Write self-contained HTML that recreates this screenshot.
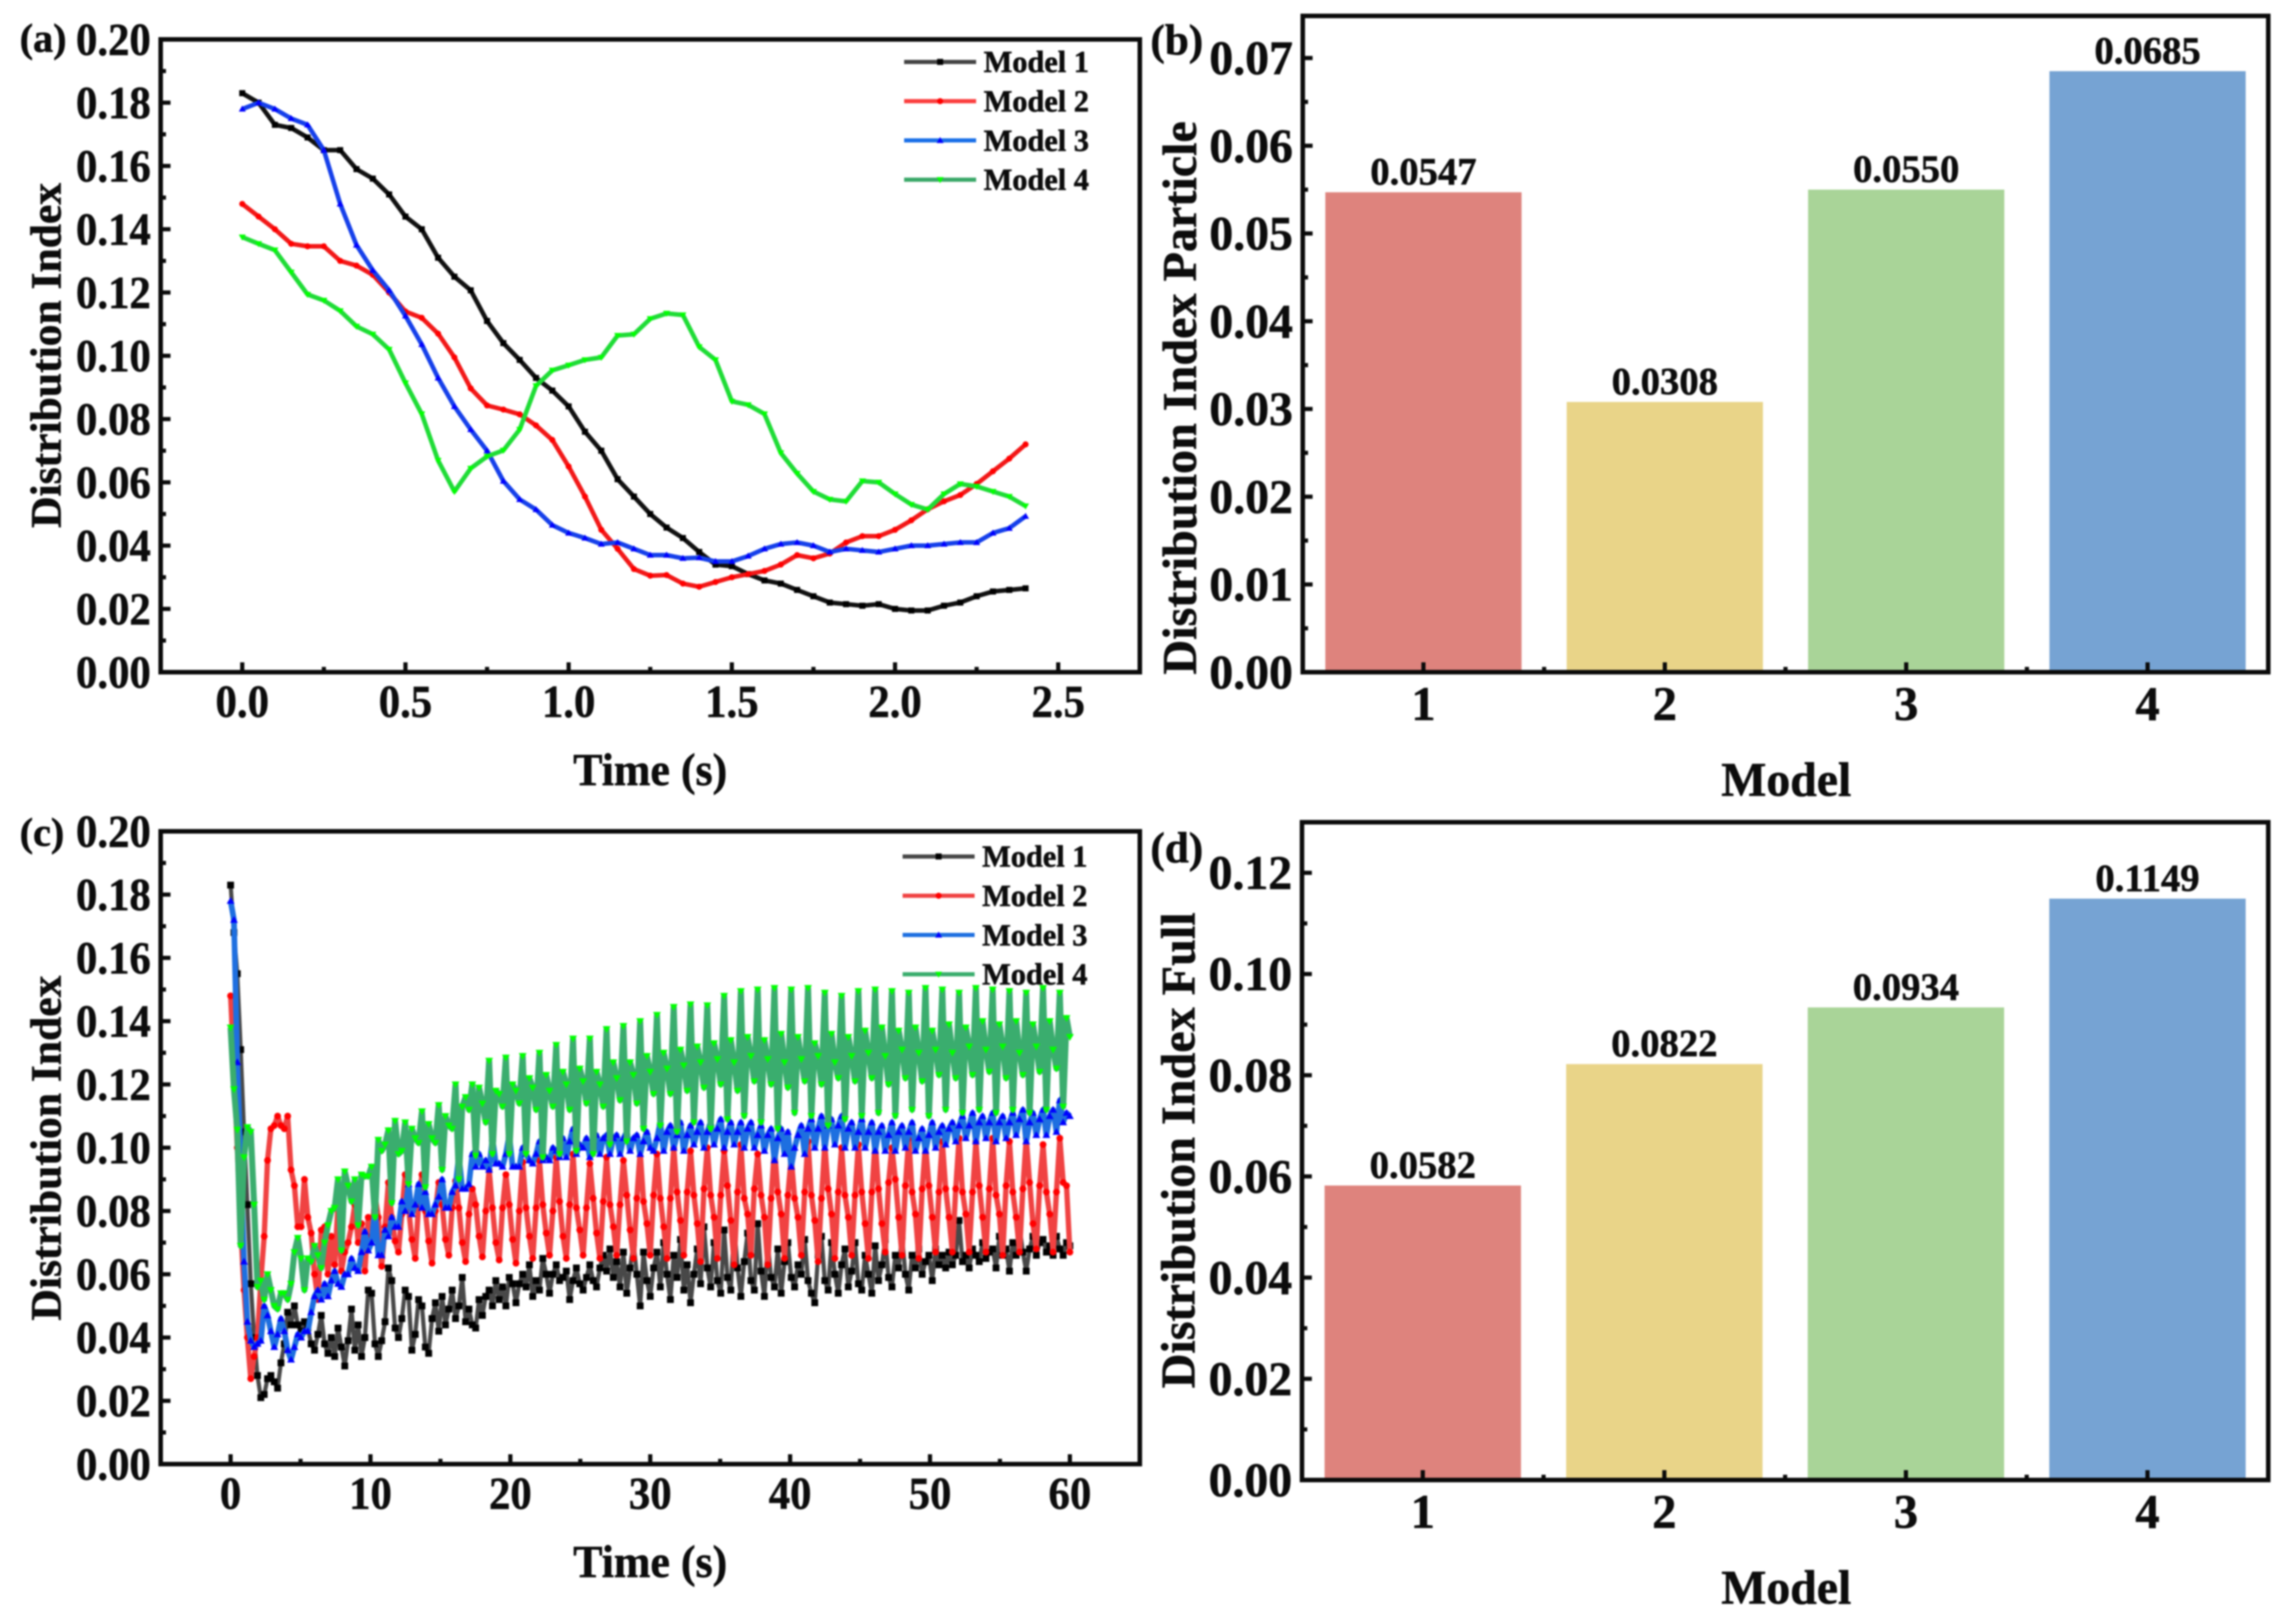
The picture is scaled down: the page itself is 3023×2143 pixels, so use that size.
<!DOCTYPE html>
<html lang="en">
<head>
<meta charset="utf-8">
<title>Distribution Index by Model</title>
<style>
html,body{margin:0;padding:0;background:#fff;}
#figure{display:block;width:3023px;height:2143px;filter:blur(1px);}
text{font-family:"Liberation Serif",serif;font-weight:bold;fill:#0c0c0c;stroke:#0c0c0c;stroke-width:0.7px;}
</style>
</head>
<body>
<svg id="figure" xmlns="http://www.w3.org/2000/svg" width="3023" height="2143" viewBox="0 0 3023 2143">
  <rect x="0" y="0" width="3023" height="2143" fill="#fff"/>
  <g id="panel-a"></g>
  <g id="panel-b"></g>
  <g id="panel-c"></g>
  <g id="panel-d"></g>
</svg>
<script>
// ---------- Panel (a): first 2.4 s, sampled every 0.05 s ----------
const timeStepA = 0.05;
const model1A = [.183,.180,.173,.172,.169,.165,.165,.159,.156,.151,.144,.140,.131,.125,.1207,.111,.104,.0987,.093,.089,.084,.076,.070,.061,.0555,.050,.0457,.0424,.038,.034,.0335,.031,.029,.028,.026,.024,.022,.0215,.021,.0215,.020,.0195,.0195,.021,.022,.024,.0255,.026,.0265];
const model2A = [.148,.144,.140,.1354,.1346,.1346,.130,.1285,.1256,.120,.114,.112,.107,.0995,.0897,.0843,.083,.0815,.078,.0734,.065,.0555,.045,.039,.0326,.0305,.0307,.028,.027,.0285,.030,.031,.032,.034,.037,.036,.0375,.041,.043,.043,.045,.048,.0515,.054,.056,.0595,.0635,.0675,.072];
const model3A = [.178,.180,.178,.175,.173,.165,.148,.135,.127,.1207,.1126,.1036,.093,.084,.0767,.070,.0604,.0546,.0514,.0465,.044,.0424,.0405,.041,.039,.037,.037,.036,.0362,.035,.035,.0367,.039,.0405,.041,.040,.038,.039,.0385,.038,.039,.040,.040,.0405,.041,.041,.044,.0455,.0493];
const model4A = [.1375,.1354,.1334,.1264,.1194,.1175,.1142,.1093,.1068,.102,.0914,.0816,.0669,.0571,.0644,.0682,.0701,.0767,.0905,.0954,.097,.0987,.0995,.1064,.1068,.1117,.1134,.1129,.1028,.0987,.0856,.0845,.0816,.0693,.0628,.0571,.0546,.054,.0604,.060,.0563,.053,.0514,.0563,.0595,.0587,.0571,.0555,.0525];
const xTicksA = ["0.0","0.5","1.0","1.5","2.0","2.5"];
const yTicksLine = ["0.00","0.02","0.04","0.06","0.08","0.10","0.12","0.14","0.16","0.18","0.20"];
const legendLabels = ["Model 1","Model 2","Model 3","Model 4"];

// ---------- Panel (c): full 60 s, sampled every 0.24 s ----------
const timeStepC = 0.24;
const model1C = [
.183,.168,.155,.131,.105,
.082,.057,.040,.028,.021,
.022,.027,.028,.026,.024,
.032,.038,.048,.044,.050,
.044,.042,.045,.043,.038,
.036,.041,.047,.038,.035,
.040,.034,.043,.037,.031,
.039,.049,.036,.044,.034,
.040,.055,.054,.038,.034,
.039,.045,.062,.058,.043,
.040,.046,.055,.053,.036,
.041,.052,.050,.037,.035,
.046,.051,.042,.053,.044,
.049,.055,.046,.050,.059,
.045,.049,.044,.043,.052,
.047,.053,.055,.050,.058,
.052,.056,.050,.059,.057,
.051,.057,.060,.056,.063,
.053,.058,.055,.065,.060,
.054,.060,.063,.058,.059,
.061,.052,.058,.062,.057,
.055,.059,.063,.058,.056,
.062,.066,.061,.068,.059,
.064,.056,.067,.054,.062,
.070,.060,.050,.067,.058,
.053,.062,.067,.056,.070,
.060,.052,.066,.059,.071,
.055,.063,.051,.060,.068,
.057,.075,.062,.056,.070,
.058,.054,.074,.059,.055,
.076,.062,.053,.064,.073,
.058,.055,.076,.061,.053,
.070,.059,.056,.068,.054,
.064,.070,.059,.056,.063,
.060,.071,.058,.054,.051,
.066,.072,.058,.055,.070,
.060,.054,.063,.068,.056,
.061,.070,.057,.055,.066,
.060,.054,.069,.058,.063,
.071,.059,.056,.066,.062,
.072,.060,.055,.066,.062,
.068,.060,.064,.066,.058,
.068,.063,.066,.062,.067,
.063,.066,.077,.064,.066,
.062,.068,.066,.064,.070,
.065,.067,.068,.062,.072,
.066,.068,.061,.070,.066,
.075,.067,.061,.068,.072,
.066,.070,.071,.067,.069,
.066,.072,.068,.066,.070,
.069];
const model2C = [
.148,.125,.100,.075,.055,
.040,.027,.034,.040,.058,
.072,.096,.106,.107,.110,
.107,.106,.110,.093,.088,
.075,.075,.090,.078,.073,
.060,.052,.074,.075,.060,
.072,.063,.082,.061,.067,
.070,.075,.082,.070,.076,
.061,.078,.072,.085,.078,
.0625,.075,.089,.078,.0705,
.067,.079,.0915,.081,.071,
.065,.082,.0915,.080,.0705,
.0635,.080,.089,.082,.071,
.066,.081,.0895,.081,.070,
.064,.079,.087,.082,.072,
.0655,.080,.093,.081,.070,
.0645,.081,.0915,.082,.071,
.0635,.080,.0955,.081,.072,
.065,.081,.096,.082,.073,
.066,.080,.097,.083,.072,
.065,.082,.098,.081,.074,
.066,.081,.095,.084,.073,
.065,.083,.097,.082,.075,
.066,.082,.096,.085,.074,
.065,.084,.099,.083,.076,
.066,.085,.098,.084,.075,
.065,.084,.100,.086,.077,
.066,.086,.099,.085,.076,
.064,.087,.100,.085,.078,
.065,.085,.099,.088,.077,
.063,.086,.101,.084,.079,
.066,.087,.098,.085,.078,
.063,.084,.100,.086,.079,
.065,.085,.097,.084,.078,
.066,.086,.102,.085,.077,
.064,.084,.101,.087,.079,
.065,.086,.100,.085,.078,
.066,.085,.101,.086,.076,
.065,.086,.102,.087,.076,
.067,.089,.100,.090,.078,
.066,.088,.103,.086,.079,
.065,.087,.101,.088,.078,
.067,.086,.102,.087,.078,
.067,.087,.103,.086,.079,
.067,.086,.102,.088,.078,
.067,.087,.103,.085,.079,
.066,.088,.102,.086,.078,
.067,.087,.103,.089,.076,
.068,.088,.101,.086,.079,
.067,.086,.103,.089,.088,
.067];
const model3C = [
.178,.172,.127,.095,.064,
.045,.039,.037,.038,.039,
.050,.047,.042,.037,.041,
.046,.042,.036,.033,.037,
.041,.040,.042,.042,.048,
.053,.055,.052,.057,.053,
.058,.061,.057,.056,.060,
.060,.065,.062,.061,.067,
.0735,.0675,.070,.081,.066,
.066,.074,.072,.078,.075,
.075,.083,.080,.0885,.079,
.082,.0885,.081,.086,.079,
.079,.082,.0845,.090,.081,
.081,.086,.088,.0975,.087,
.087,.0885,.098,.094,.098,
.094,.096,.093,.103,.095,
.095,.094,.098,.104,.094,
.094,.094,.100,.098,.096,
.095,.098,.102,.096,.097,
.096,.100,.099,.097,.103,
.097,.102,.106,.098,.101,
.100,.103,.097,.102,.104,
.098,.103,.104,.098,.103,
.104,.098,.103,.105,.099,
.103,.104,.098,.102,.105,
.100,.099,.103,.108,.099,
.105,.107,.100,.104,.108,
.099,.104,.107,.101,.105,
.108,.100,.105,.108,.101,
.106,.109,.100,.105,.108,
.101,.105,.108,.100,.106,
.108,.100,.104,.107,.099,
.104,.106,.096,.103,.106,
.098,.105,.094,.100,.104,
.107,.098,.106,.109,.100,
.106,.110,.100,.107,.109,
.101,.107,.110,.100,.106,
.108,.100,.105,.109,.100,
.105,.108,.099,.105,.107,
.099,.104,.108,.099,.105,
.107,.100,.105,.108,.099,
.103,.106,.099,.104,.108,
.100,.105,.107,.101,.106,
.108,.102,.107,.110,.103,
.107,.111,.102,.108,.110,
.103,.108,.111,.102,.108,
.110,.103,.108,.111,.104,
.109,.112,.102,.108,.111,
.104,.109,.112,.104,.110,
.112,.105,.115,.108,.111,
.110];
const model4C = [
.138,.1185,.1057,.069,.097,
.1065,.105,.082,.056,.058,
.052,.060,.055,.050,.049,
.054,.054,.052,.057,.067,
.0715,.065,.055,.065,.064,
.069,.066,.062,.070,.0755,
.080,.081,.090,.0675,.0925,
.088,.083,.090,.0755,.0915,
.091,.091,.094,.078,.1025,
.099,.101,.1055,.0825,.1085,
.098,.099,.108,.0885,.106,
.103,.1015,.1115,.0875,.1075,
.103,.1015,.1135,.093,.110,
.107,.106,.120,.090,.113,
.116,.112,.120,.0975,.119,
.114,.108,.1275,.098,.118,
.117,.113,.1285,.098,.120,
.118,.114,.129,.098,.122,
.119,.112,.130,.097,.123,
.118,.113,.1325,.098,.124,
.120,.112,.1345,.099,.125,
.121,.114,.1345,.098,.124,
.120,.113,.1375,.101,.127,
.122,.115,.1385,.102,.127,
.123,.114,.140,.106,.129,
.124,.117,.142,.107,.130,
.125,.117,.1445,.105,.131,
.126,.118,.1453,.108,.132,
.127,.119,.145,.106,.133,
.128,.120,.148,.109,.134,
.127,.118,.1495,.110,.135,
.129,.121,.150,.108,.134,
.128,.120,.1505,.106,.136,
.127,.119,.150,.111,.135,
.128,.121,.1505,.110,.133,
.129,.120,.149,.107,.136,
.127,.122,.148,.109,.135,
.129,.121,.1495,.110,.137,
.130,.122,.150,.111,.138,
.129,.120,.1495,.110,.137,
.131,.122,.149,.112,.138,
.130,.121,.1505,.110,.137,
.131,.123,.150,.112,.139,
.130,.122,.149,.111,.138,
.132,.123,.1505,.112,.140,
.131,.124,.150,.111,.139,
.132,.122,.1495,.112,.140,
.130,.123,.149,.111,.139,
.132,.124,.1505,.112,.140,
.131,.125,.149,.113,.141,
.135];
const xTicksC = ["0","10","20","30","40","50","60"];

// ---------- Panels (b) and (d): bar charts ----------
const barCategories = ["1","2","3","4"];
const particleValues = [0.0547,0.0308,0.0550,0.0685];
const fullValues = [0.0582,0.0822,0.0934,0.1149];
const yTicksB = ["0.00","0.01","0.02","0.03","0.04","0.05","0.06","0.07"];
const yTicksD = ["0.00","0.02","0.04","0.06","0.08","0.10","0.12"];
const barColors = ["#DE837D","#E9D488","#A9D498","#76A3D3"];

const NS = "http://www.w3.org/2000/svg";
function mk(tag, attrs, parent){
  const el = document.createElementNS(NS, tag);
  for(const k in attrs){ el.setAttribute(k, attrs[k]); }
  parent.appendChild(el);
  return el;
}
function linearAxis(d0, d1, p0, p1){
  return v => p0 + (v - d0) / (d1 - d0) * (p1 - p0);
}
function addText(parent, str, x, y, size, anchor, rotate, squeeze){
  const attrs = {x:x, y:y, "font-size":size, "text-anchor":anchor};
  if(rotate){ attrs.transform = "rotate(-90 " + x + " " + y + ")"; }
  const t = mk("text", attrs, parent);
  t.textContent = str;
  if(squeeze){
    const w = t.getComputedTextLength();
    t.setAttribute("textLength", (w * squeeze).toFixed(1));
    t.setAttribute("lengthAdjust", "spacingAndGlyphs");
  }
  return t;
}
function drawFrame(g, box){
  const frame = mk("rect", {x:box.l, y:box.t, width:box.r-box.l, height:box.b-box.t, fill:"none", stroke:"#0a0a0a", "stroke-width":6}, g);
  
  
}
function tickLine(g, x1, y1, x2, y2, nameText){
  const tick = mk("line", {x1:x1, y1:y1, x2:x2, y2:y2, stroke:"#0a0a0a", "stroke-width":5.5}, g);
  
  
}
function drawYAxis(g, box, yScale, labels, fontSize, squeeze){
  labels.forEach((lab, i) => {
    const v = parseFloat(lab);
    const y = yScale(v);
    if(i > 0){ tickLine(g, box.l, y, box.l + 13, y, 'y-major-tick'); }
    const t = addText(g, lab, box.l - 13, y + fontSize * 0.34, fontSize, "end", false, squeeze);
    
    
    if(i < labels.length - 1){
      const next = parseFloat(labels[i + 1]);
      tickLine(g, box.l, yScale((v + next) / 2), box.l + 7, yScale((v + next) / 2), 'y-minor-tick');
    }
  });
  const lastV = parseFloat(labels[labels.length - 1]);
  const stepV = lastV - parseFloat(labels[labels.length - 2]);
  const extraY = yScale(lastV + stepV / 2);
  if(extraY > box.t + 4){ tickLine(g, box.l, extraY, box.l + 7, extraY, 'y-minor-tick'); }
}

function drawLinePanel(g, cfg){
  const box = cfg.box;
  const xScale = linearAxis(cfg.xDomain[0], cfg.xDomain[1], box.l, box.r);
  const yScale = linearAxis(0, 0.2, box.b, box.t);
  drawFrame(g, box);
  drawYAxis(g, box, yScale, yTicksLine, 60, 0.94);
  cfg.xTicks.forEach((lab, i) => {
    const v = parseFloat(lab);
    const x = xScale(v);
    tickLine(g, x, box.b, x, box.b - 13, 'x-major-tick');
    const t = addText(g, lab, x, cfg.xLabelBaseline, 60, "middle", false, 0.94);
    
    
    if(i < cfg.xTicks.length - 1){
      const mid = xScale((v + parseFloat(cfg.xTicks[i + 1])) / 2);
      tickLine(g, mid, box.b, mid, box.b - 7, 'x-minor-tick');
    }
  });
  cfg.series.forEach((values, s) => {
    const sg = mk("g", {}, g);
    
    
    const pts = values.map((v, i) => xScale(i * cfg.step).toFixed(1) + "," + yScale(v).toFixed(1));
    const line = mk("polyline", {points:pts.join(" "), fill:"none", stroke:cfg.lineColors[s], "stroke-width":cfg.lineWidths[s], "stroke-linejoin":"round"}, sg);
    
    
    values.forEach((v, i) => {
      const m = drawMarker(sg, s, xScale(i * cfg.step), yScale(v), cfg.markerSize);
      
      
    });
  });
  legendLabels.forEach((lab, s) => {
    const y = cfg.legendY + s * 51.8;
    const lg = mk("g", {}, g);
    
    
    const l = mk("line", {x1:1193 + cfg.legendDx, y1:y, x2:1288 + cfg.legendDx, y2:y, stroke:cfg.legendColors[s], "stroke-width":5.5}, lg);
    
    
    const m = drawMarker(lg, s, 1240.5 + cfg.legendDx, y, 8);
    
    
    const t = addText(lg, lab, 1298 + cfg.legendDx, y + 13.5, 40, "start");
    
    
  });
  const xt = addText(g, "Time (s)", 858, cfg.xTitleBaseline, 60, "middle", false, 0.965);
  
  
  const yt = addText(g, "Distribution Index", 80, cfg.yTitleCenter, 57.5, "middle", true);
  
  
  const pl = addText(g, cfg.letter, 26, cfg.letterBaseline, 53, "start");
  
  
}

const markerColors = ["#000","#ff0000","#0000ff","#00ff00"];
function drawMarker(parent, s, x, y, size){
  const r = size / 2;
  if(s === 0){
    return mk("rect", {x:x - r, y:y - r, width:size, height:size, fill:markerColors[s]}, parent);
  }
  if(s === 1){
    return mk("circle", {cx:x, cy:y, r:r, fill:markerColors[s]}, parent);
  }
  const dir = s === 2 ? 1 : -1;
  const tip = (x) + "," + (y - dir * r * 1.15);
  const a = (x - r * 1.15) + "," + (y + dir * r * 0.85);
  const b = (x + r * 1.15) + "," + (y + dir * r * 0.85);
  return mk("polygon", {points:tip + " " + a + " " + b, fill:markerColors[s]}, parent);
}

function drawBarPanel(g, cfg){
  const box = cfg.box;
  const xScale = linearAxis(0.5, 4.5, box.l, box.r);
  const yScale = linearAxis(0, cfg.yMax, box.b, box.t);
  const barW = 0.813 * (xScale(2) - xScale(1));
  cfg.values.forEach((v, i) => {
    const cx = xScale(i + 1);
    const bar = mk("rect", {x:cx - barW / 2, y:yScale(v), width:barW, height:box.b - yScale(v), fill:barColors[i]}, g);
    
    
    const t = addText(g, v.toFixed(4), cx, yScale(v) - 10, 51, "middle");
    
    
  });
  drawFrame(g, box);
  drawYAxis(g, box, yScale, cfg.yTicks, 63);
  barCategories.forEach((lab, i) => {
    const x = xScale(i + 1);
    tickLine(g, x, box.b, x, box.b - 13, 'x-major-tick');
    if(i < barCategories.length - 1){
      tickLine(g, x + (xScale(2) - xScale(1)) / 2, box.b, x + (xScale(2) - xScale(1)) / 2, box.b - 7, 'x-minor-tick');
    }
    const t = addText(g, lab, x, cfg.xLabelBaseline, 64, "middle");
    
    
  });
  const xt = addText(g, "Model", 2357, cfg.xTitleBaseline, 63, "middle");
  
  
  const yt = addText(g, cfg.yTitle, cfg.yTitleX, cfg.yTitleCenter, 63.5, "middle", true);
  
  
  const pl = addText(g, cfg.letter, 1518, cfg.letterBaseline, 57, "start");
  
  
}

drawLinePanel(document.getElementById("panel-a"), {
  box:{l:212, r:1504, t:52, b:887}, xDomain:[-0.25, 2.75], xTicks:xTicksA, step:timeStepA,
  series:[model1A, model2A, model3A, model4A],
  lineColors:["#111111","#f21818","#1640ea","#1fdc36"],
  legendColors:["#444444","#fb3f3f","#1a6fe8","#3aa868"],
  lineWidths:[6,6,6,6], markerSize:8, xLabelBaseline:946, xTitleBaseline:1036, yTitleCenter:469,
  legendY:81.7, legendDx:0, letter:"(a)", letterBaseline:68
});
drawLinePanel(document.getElementById("panel-c"), {
  box:{l:212, r:1504, t:1097, b:1932}, xDomain:[-5, 65], xTicks:xTicksC, step:timeStepC,
  series:[model1C, model2C, model3C, model4C],
  lineColors:["#484848","#f04242","#1e6fe0","#3aad6e"],
  legendColors:["#484848","#f04242","#1e6fe0","#3aad6e"],
  lineWidths:[5.5,7,7.5,8], markerSize:9, xLabelBaseline:1991, xTitleBaseline:2081, yTitleCenter:1515,
  legendY:1130.2, legendDx:-2, letter:"(c)", letterBaseline:1116
});
drawBarPanel(document.getElementById("panel-b"), {
  box:{l:1719, r:2993, t:21, b:887}, yMax:0.0748, values:particleValues, yTicks:yTicksB,
  xLabelBaseline:950, xTitleBaseline:1050, yTitle:"Distribution Index Particle",
  yTitleX:1578, yTitleCenter:525, letter:"(b)", letterBaseline:72
});
drawBarPanel(document.getElementById("panel-d"), {
  box:{l:1718, r:2993, t:1085, b:1953}, yMax:0.13, values:fullValues, yTicks:yTicksD,
  xLabelBaseline:2016, xTitleBaseline:2116, yTitle:"Distribution Index Full",
  yTitleX:1576, yTitleCenter:1518, letter:"(d)", letterBaseline:1138
});
</script>
</body>
</html>
